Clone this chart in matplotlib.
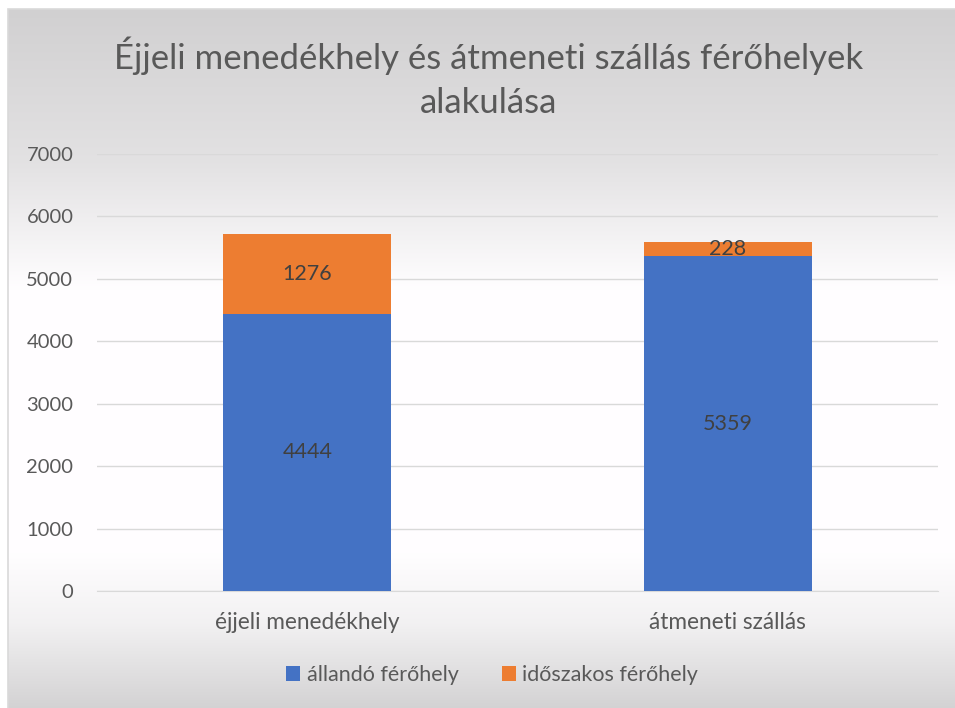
import numpy as np
import matplotlib.pyplot as plt
from matplotlib.patches import Rectangle

categories = ["éjjeli menedékhely", "átmeneti szállás"]
allando = [4444, 5359]
idoszakos = [1276, 228]
series_names = ["állandó férőhely", "időszakos férőhely"]
title = "Éjjeli menedékhely és átmeneti szállás férőhelyek\nalakulása"

plt.rcParams["font.family"] = ["Lato", "DejaVu Sans"]

W, H = 955, 708
fig = plt.figure(figsize=(W / 100, H / 100), dpi=100)
fig.patch.set_facecolor("white")

# háttér: szürke-fehér-szürke függőleges átmenet
bg = fig.add_axes([8 / W, 0, 1 - 8 / W, 1 - 9 / H], zorder=-5)
yy = np.linspace(0, 1, 300)
shade = np.interp(yy, [0, 0.22, 0.4, 0.78, 0.88, 1], [0.82, 0.89, 1.0, 1.0, 0.95, 0.83])
img = np.repeat(shade[:, None], 2, axis=1)
bg.imshow(np.dstack([img, img * 0.995, img * 1.0]), aspect="auto", extent=[0, 1, 0, 1],
          origin="upper", interpolation="bilinear")
bg.set_xlim(0, 1)
bg.set_ylim(0, 1)
bg.axis("off")
fig.add_artist(Rectangle((8 / W, -0.01), 1, 1 - 9 / H + 0.01, transform=fig.transFigure,
                         fill=False, edgecolor="#d9d9d9", linewidth=1.2))

ax = fig.add_axes([97 / W, 1 - 591 / H, (938 - 97) / W, (591 - 154) / H])
ax.patch.set_alpha(0)
x = np.arange(len(categories))
b1 = ax.bar(x, allando, width=0.4, color="#4472c4", label=series_names[0], zorder=3)
b2 = ax.bar(x, idoszakos, width=0.4, bottom=allando, color="#ed7d31", label=series_names[1], zorder=3)

for i in range(len(categories)):
    ax.text(x[i], allando[i] / 2, str(allando[i]), ha="center", va="center",
            fontsize=15.5, color="#404040", zorder=4)
    ax.text(x[i], allando[i] + idoszakos[i] / 2, str(idoszakos[i]), ha="center", va="center",
            fontsize=15.5, color="#404040", zorder=4)

ax.set_xlim(-0.5, 1.5)
ax.set_ylim(0, 7000)
ax.set_yticks(range(0, 7001, 1000))
ax.set_xticks(x)
ax.set_xticklabels(categories)
ax.tick_params(axis="both", length=0, colors="#595959")
ax.tick_params(axis="y", pad=17, labelsize=14.5)
ax.tick_params(axis="x", pad=15, labelsize=16.3)
ax.grid(axis="y", color="#d9d9d9", linewidth=1, zorder=0)
for s in ["top", "right", "left"]:
    ax.spines[s].set_visible(False)
ax.spines["bottom"].set_color("#d9d9d9")

fig.text(489 / W, 1 - 78 / H, title, ha="center", va="center", fontsize=25,
         color="#595959", linespacing=1.45)

fig.legend(handles=[b1, b2], loc="center", bbox_to_anchor=(492 / W, 1 - 675 / H), ncol=2,
           frameon=False, fontsize=15.5, labelcolor="#595959", handlelength=0.65,
           handleheight=0.65, handletextpad=0.3, columnspacing=2.0)

fig.savefig("out.png", dpi=100)
